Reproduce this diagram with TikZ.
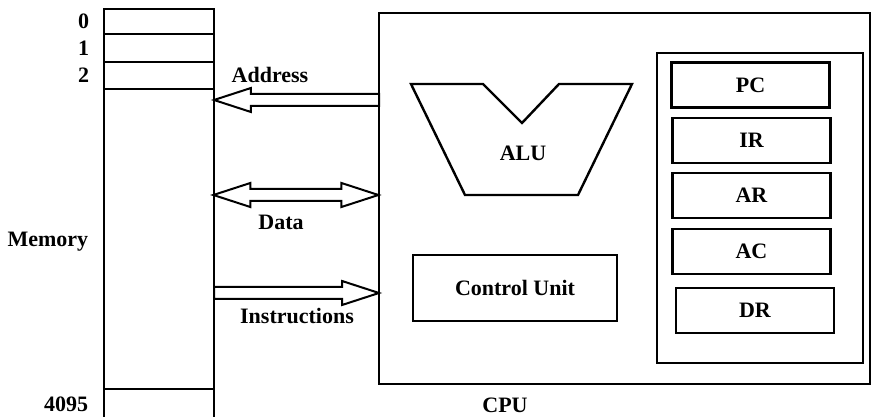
\documentclass[tikz,border=0pt]{standalone}
\usepackage{fontspec}
\setmainfont{Liberation Serif}
\usetikzlibrary{shapes.arrows,calc}

\tikzset{
  lbl/.style={font=\fontsize{11}{13}\selectfont\bfseries},
  reg/.style={draw,line width=1.2pt,minimum width=79pt,minimum height=22.5pt,lbl},
  onebus/.style={draw,line width=1pt,single arrow,inner sep=2.5pt,outer sep=0pt,
    single arrow head extend=3pt,single arrow tip angle=36,single arrow head indent=0pt},
  twobus/.style={draw,line width=1pt,double arrow,inner sep=2.5pt,outer sep=0pt,
    double arrow head extend=3pt,double arrow tip angle=36,double arrow head indent=0pt},
}

\begin{document}
\begin{tikzpicture}[x=0.5pt,y=-0.5pt,line width=1.2pt]
  \useasboundingbox (0,0) rectangle (875,417);

  % Memory column (runs off the bottom)
  \draw (104,418) -- (104,9) -- (214,9) -- (214,418);
  \coordinate (memR) at (214,200);
  \foreach \y in {34,62,89,389}
    \draw (104,\y) -- (214,\y);
  \node[lbl,anchor=east] (w0) at (97,21) {0};
  \node[lbl,anchor=east] (w1) at (97,48) {1};
  \node[lbl,anchor=east] (w2) at (97,75) {2};
  \node[lbl,anchor=east] (wlast) at (96,404) {4095};
  \node[lbl,anchor=east] (memlbl) at (96,242) {Memory};

  % CPU frame
  \node[draw,minimum width=245.5pt,minimum height=185.5pt] (cpu) at (624.5,198.5) {};
  \node[lbl] (cpulbl) at (505,405) {CPU};

  % Buses between memory and CPU
  \node[onebus,shape border rotate=180,minimum height=82.5pt,anchor=tip] (addr)
    at (memR |- 0,100) {};
  \node[twobus,minimum height=82.5pt] (data)
    at ($(memR |- 0,195)!.5!(cpu.west |- 0,195)$) {};
  \node[onebus,minimum height=82.5pt,anchor=tail] (instr)
    at (memR |- 0,293) {};
  \node[lbl] at (270,75) {Address};
  \node[lbl] at (281,222) {Data};
  \node[lbl] at (297,316) {Instructions};

  % ALU
  \draw (411,84) -- (483,84) -- (522,123) -- (559,84) -- (632,84)
    -- (578,195) -- (465,195) -- cycle;
  \node[lbl] (alu) at (523,153) {ALU};

  % Control unit
  \node[draw,lbl,minimum width=102pt,minimum height=33pt] (cu) at (515,288) {Control Unit};

  % Register file
  \draw (657,53) rectangle (863,363);
  \node[reg] (pc) at (750.5,85) {PC};
  \node[reg] (ir) at (751.5,140.5) {IR};
  \node[reg] (ar) at (751.5,195.5) {AR};
  \node[reg] (ac) at (751.5,251.5) {AC};
  \node[reg] (dr) at (755,310.5) {DR};
\end{tikzpicture}
\end{document}
